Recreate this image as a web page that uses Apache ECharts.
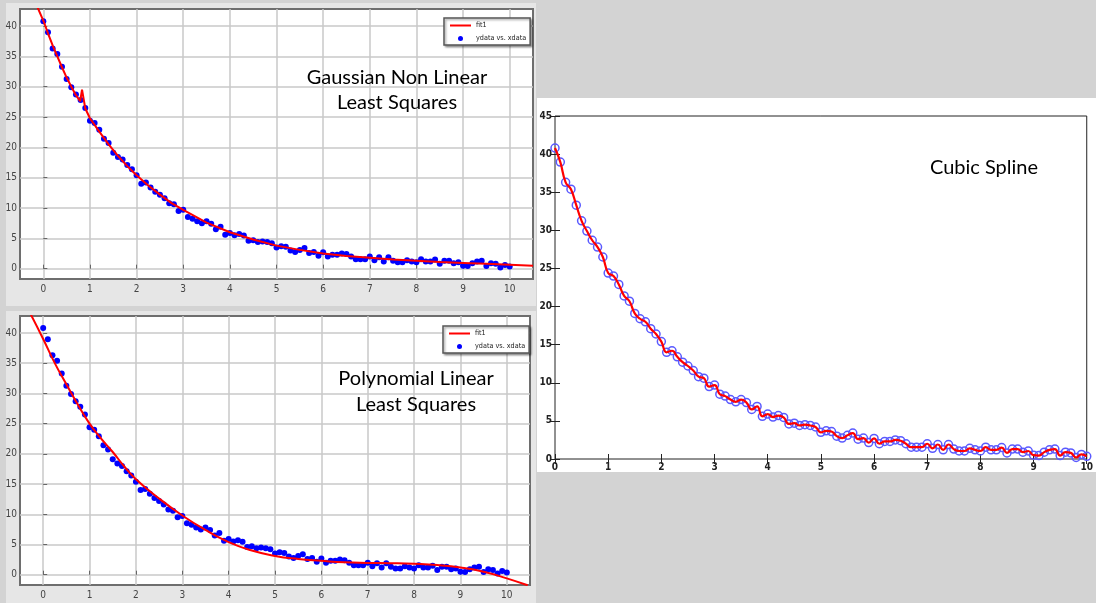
<!DOCTYPE html>
<html>
<head>
<meta charset="utf-8">
<script src="https://cdn.jsdelivr.net/npm/echarts@6/dist/echarts.min.js"></script>
<style>
html, body { margin: 0; padding: 0; background: #d3d3d3; }
#container { width: 1096px; height: 603px; }
</style>
</head>
<body>
<div id="container"></div>
<script>
// 数据
var xdata = [0, 0.1, 0.2, 0.3, 0.4, 0.5, 0.6, 0.7, 0.8, 0.9,
   1, 1.1, 1.2, 1.3, 1.4, 1.5, 1.6, 1.7, 1.8, 1.9,
   2, 2.1, 2.2, 2.3, 2.4, 2.5, 2.6, 2.7, 2.8, 2.9,
   3, 3.1, 3.2, 3.3, 3.4, 3.5, 3.6, 3.7, 3.8, 3.9,
   4, 4.1, 4.2, 4.3, 4.4, 4.5, 4.6, 4.7, 4.8, 4.9,
   5, 5.1, 5.2, 5.3, 5.4, 5.5, 5.6, 5.7, 5.8, 5.9,
   6, 6.1, 6.2, 6.3, 6.4, 6.5, 6.6, 6.7, 6.8, 6.9,
   7, 7.1, 7.2, 7.3, 7.4, 7.5, 7.6, 7.7, 7.8, 7.9,
   8, 8.1, 8.2, 8.3, 8.4, 8.5, 8.6, 8.7, 8.8, 8.9,
   9, 9.1, 9.2, 9.3, 9.4, 9.5, 9.6, 9.7, 9.8, 9.9, 10];
var ydata = [40.8, 38.95, 36.3, 35.4, 33.3, 31.25, 29.9, 28.7, 27.8, 26.5,
   24.4, 24.0, 22.9, 21.4, 20.7, 19.1, 18.4, 18.0, 17.1, 16.4,
   15.4, 14.0, 14.2, 13.4, 12.7, 12.2, 11.6, 10.8, 10.6, 9.5,
   9.7, 8.5, 8.25, 7.8, 7.5, 7.8, 7.4, 6.5, 6.9, 5.6,
   5.9, 5.5, 5.7, 5.45, 4.6, 4.7, 4.4, 4.5, 4.4, 4.2,
   3.5, 3.7, 3.6, 3.0, 2.75, 3.1, 3.4, 2.6, 2.75, 2.15,
   2.7, 2.0, 2.3, 2.3, 2.5, 2.4, 2.0, 1.55, 1.55, 1.55,
   2.0, 1.4, 1.9, 1.2, 1.9, 1.3, 1.05, 1.05, 1.4, 1.2,
   1.05, 1.55, 1.2, 1.2, 1.5, 0.8, 1.3, 1.3, 0.9, 1.05,
   0.5, 0.45, 0.9, 1.2, 1.3, 0.45, 0.9, 0.8, 0.2, 0.6, 0.35];

// 高斯拟合曲线
var gaussX = [-0.12, 0, 0.1, 0.2, 0.3, 0.4, 0.5, 0.6, 0.7, 0.79, 0.83, 0.9, 1.0, 1.2, 1.4, 1.6, 1.8, 2.0,
   2.25, 2.5, 2.75, 3.0, 3.5, 4.0, 4.5, 5.0, 5.5, 6.0, 6.5, 7.0, 7.5, 8.0, 8.5, 9.0, 9.5, 10.0, 10.5];
var gaussY = [43.0, 40.9, 38.8, 36.8, 35.0, 33.2, 31.5, 30.0, 28.6, 27.6, 29.5, 26.4, 24.8, 22.6, 20.5, 18.6, 16.9, 15.4,
   13.7, 12.2, 10.8, 9.7, 7.6, 6.0, 4.8, 3.8, 3.1, 2.5, 2.1, 1.8, 1.5, 1.3, 1.1, 0.95, 0.8, 0.65, 0.5];

// 多项式拟合曲线
var polyX = [-0.27, 0, 0.25, 0.5, 0.75, 1, 1.25, 1.5, 1.75, 2, 2.5, 3, 3.5, 4, 4.5, 5, 5.5,
   6, 6.5, 7, 7.5, 8, 8.5, 9, 9.5, 10, 10.45];
var polyY = [43.1, 39.0, 35.0, 31.5, 28.1, 25.0, 22.5, 20.3, 17.9, 15.8, 12.6, 9.8, 7.4, 5.4, 4.0, 3.1, 2.6,
   2.3, 2.05, 1.95, 1.9, 1.8, 1.6, 1.2, 0.5, -0.6, -1.75];

var ticksX = [0, 1, 2, 3, 4, 5, 6, 7, 8, 9, 10];
var ticksY = [0, 5, 10, 15, 20, 25, 30, 35, 40];

function pairs(xs, ys) {
   return xs.map(function (x, i) { return [x, ys[i]]; });
}
var points = pairs(xdata, ydata);

var narrow = "'Liberation Sans Narrow', 'DejaVu Sans Condensed', 'Arial Narrow', sans-serif";

var dom = document.getElementById('container');
var myChart = echarts.init(dom, null, { renderer: 'canvas' });

function leftX(idx) {
   return {
      gridIndex: idx, type: 'value', min: -0.5, max: 10.5,
      axisLine: { show: false },
      axisTick: { show: true, inside: true, length: 4, customValues: ticksX, lineStyle: { color: '#666' } },
      axisLabel: { customValues: ticksX, fontSize: 10, color: '#444', margin: 5, fontFamily: narrow },
      splitLine: { show: true, lineStyle: { color: '#c9c9c9', width: 1.5 } }
   };
}
function leftY(idx) {
   return {
      gridIndex: idx, type: 'value', min: -1.7, max: 42.8,
      axisLine: { show: false },
      axisTick: { show: true, inside: true, length: 4, customValues: ticksY, lineStyle: { color: '#666' } },
      axisLabel: { customValues: ticksY, fontSize: 10, color: '#444', margin: 3, fontFamily: narrow },
      splitLine: { show: true, lineStyle: { color: '#c9c9c9', width: 1.5 } }
   };
}
function legendAt(left, top) {
   return {
      data: [{ name: 'fit1', itemStyle: { opacity: 0 } }, { name: 'ydata vs. xdata' }],
      left: left, top: top, orient: 'vertical',
      itemWidth: 21, itemHeight: 5, itemGap: 6, padding: [4, 4, 3, 5],
      backgroundColor: '#fff', borderColor: '#555', borderWidth: 1.5,
      shadowColor: 'rgba(0,0,0,0.35)', shadowBlur: 2, shadowOffsetX: 1.5, shadowOffsetY: 1.5,
      selectedMode: false,
      textStyle: { fontSize: 7.2, color: '#222', fontFamily: narrow }
   };
}
var rightAxisCommon = {
   axisLine: { show: false },
   axisTick: { show: true, inside: true, length: 5, lineStyle: { color: '#222' } },
   splitLine: { show: false }
};

var option = {
   animation: false,
   backgroundColor: '#d3d3d3',
   graphic: [
      { type: 'rect', z: -100, shape: { x: 6, y: 3, width: 530, height: 303 }, style: { fill: '#e6e6e6' } },
      { type: 'rect', z: -100, shape: { x: 6, y: 311, width: 530, height: 292 }, style: { fill: '#e6e6e6' } },
      { type: 'rect', z: -100, shape: { x: 537, y: 98, width: 559, height: 374 }, style: { fill: '#ffffff' } },
      { type: 'text', z: 100, x: 397, y: 90,
        style: { text: 'Gaussian Non Linear\nLeast Squares', fontSize: 20, fontFamily: 'Lato', lineHeight: 25,
                 fill: '#000', textAlign: 'center', textVerticalAlign: 'middle' } },
      { type: 'text', z: 100, x: 416, y: 392,
        style: { text: 'Polynomial Linear\nLeast Squares', fontSize: 20, fontFamily: 'Lato', lineHeight: 26,
                 fill: '#000', textAlign: 'center', textVerticalAlign: 'middle' } },
      { type: 'text', z: 100, x: 984, y: 168,
        style: { text: 'Cubic Spline', fontSize: 20, fontFamily: 'Lato',
                 fill: '#000', textAlign: 'center', textVerticalAlign: 'middle' } }
   ],
   legend: [legendAt(444, 18), legendAt(443, 326)],
   grid: [
      { left: 20, top: 9, width: 513, height: 270, show: true, backgroundColor: '#fff', borderColor: '#6e6e6e', borderWidth: 2 },
      { left: 20, top: 316, width: 510, height: 269, show: true, backgroundColor: '#fff', borderColor: '#6e6e6e', borderWidth: 2 },
      { left: 555, top: 116, width: 536, height: 343, show: true, backgroundColor: 'transparent', borderColor: '#222', borderWidth: 1 }
   ],
   xAxis: [
      leftX(0),
      leftX(1),
      Object.assign({ gridIndex: 2, type: 'value', min: 0, max: 10, interval: 1,
         axisLabel: { fontSize: 10, color: '#222', fontWeight: 'bold', margin: 3, fontFamily: narrow } }, rightAxisCommon),
      Object.assign({ gridIndex: 2, type: 'value', min: 0, max: 10, interval: 1, position: 'top',
         axisLabel: { show: false } }, rightAxisCommon)
   ],
   yAxis: [
      leftY(0),
      leftY(1),
      Object.assign({ gridIndex: 2, type: 'value', min: 0, max: 45, interval: 5,
         axisLabel: { fontSize: 10, color: '#222', fontWeight: 'bold', margin: 3, fontFamily: narrow } }, rightAxisCommon),
      Object.assign({ gridIndex: 2, type: 'value', min: 0, max: 45, interval: 5, position: 'right',
         axisLabel: { show: false } }, rightAxisCommon)
   ],
   series: [
      {
         name: 'ydata vs. xdata', type: 'scatter', xAxisIndex: 0, yAxisIndex: 0,
         symbolSize: 6, itemStyle: { color: '#0000ff', opacity: 1 }, data: points, z: 3
      },
      {
         name: 'fit1', type: 'line', xAxisIndex: 0, yAxisIndex: 0, symbol: 'none',
         lineStyle: { color: '#ff0000', width: 2 }, itemStyle: { color: '#ff0000' },
         data: pairs(gaussX, gaussY), z: 4
      },
      {
         name: 'ydata vs. xdata', type: 'scatter', xAxisIndex: 1, yAxisIndex: 1,
         symbolSize: 6, itemStyle: { color: '#0000ff', opacity: 1 }, data: points, z: 3
      },
      {
         name: 'fit1', type: 'line', xAxisIndex: 1, yAxisIndex: 1, symbol: 'none', smooth: true,
         lineStyle: { color: '#ff0000', width: 2 }, itemStyle: { color: '#ff0000' },
         data: pairs(polyX, polyY), z: 4
      },
      {
         name: 'spline data', type: 'scatter', xAxisIndex: 2, yAxisIndex: 2,
         symbol: 'circle', symbolSize: 8,
         itemStyle: { color: 'rgba(0,0,0,0)', borderColor: '#5a5aff', borderWidth: 1.5, opacity: 1 },
         data: points, z: 3
      },
      {
         name: 'spline', type: 'line', xAxisIndex: 2, yAxisIndex: 2, symbol: 'none', smooth: true,
         lineStyle: { color: '#ff0000', width: 2.2 },
         data: points, z: 4
      }
   ]
};

if (option && typeof option === 'object') {
   myChart.setOption(option);
}

window.addEventListener('resize', myChart.resize);
</script>
</body>
</html>
